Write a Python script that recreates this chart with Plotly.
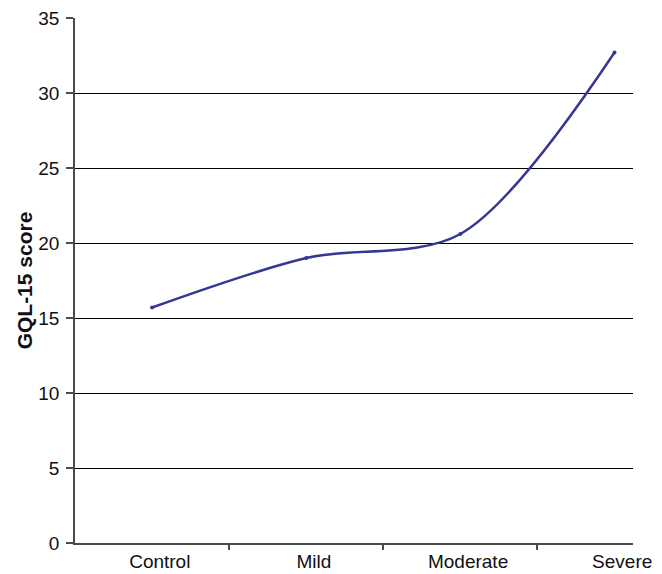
import plotly.graph_objects as go

categories = ['Control', 'Mild', 'Moderate', 'Severe']
gql_scores = [15.7, 19.0, 20.6, 32.7]
y_ticks = [0, 5, 10, 15, 20, 25, 30, 35]

x_pos = list(range(len(categories)))
# tick marks sit between the categories
boundaries = [i + 0.5 for i in range(len(categories) - 1)]

fig = go.Figure()

fig.add_trace(go.Scatter(
    x=x_pos,
    y=gql_scores,
    mode='lines+markers',
    line=dict(color='#363694', width=2.5, shape='spline', smoothing=0.9),
    marker=dict(size=4, color='#363694'),
    showlegend=False,
))

fig.update_xaxes(
    range=[-0.5, 3.12],
    automargin=False,
    tickmode='array',
    tickvals=[p + 0.05 for p in x_pos],
    ticktext=categories,
    ticks='',
    ticklabeloverflow='allow',
    showgrid=False,
    zeroline=False,
    showline=True,
    linecolor='#4a4a4a',
    linewidth=2,
    minor=dict(tickmode='array', tickvals=boundaries, ticks='outside',
               ticklen=5, tickcolor='#4a4a4a', tickwidth=1.5, showgrid=False),
    tickfont=dict(family='Liberation Sans, Arial', size=19, color='#111111'),
)

fig.update_yaxes(
    range=[0, 35],
    automargin=False,
    tickmode='array',
    tickvals=y_ticks,
    ticks='outside',
    ticklen=7,
    tickcolor='#4a4a4a',
    tickwidth=1.5,
    ticklabelstandoff=3,
    ticklabeloverflow='allow',
    showgrid=True,
    gridcolor='#000000',
    gridwidth=1,
    zeroline=False,
    showline=True,
    linecolor='#4a4a4a',
    linewidth=1.5,
    tickfont=dict(family='Liberation Sans, Arial', size=19, color='#111111'),
    title=dict(text='<b>GQL-15 score</b>', standoff=0,
               font=dict(family='Liberation Sans, Arial', size=21, color='#111111')),
)

# the page body adds 8px on the left and top, margins allow for it
fig.update_layout(
    width=662,
    height=574,
    margin=dict(l=67, r=37, t=10, b=39),
    plot_bgcolor='white',
    paper_bgcolor='white',
)

fig.write_html('out.html')
